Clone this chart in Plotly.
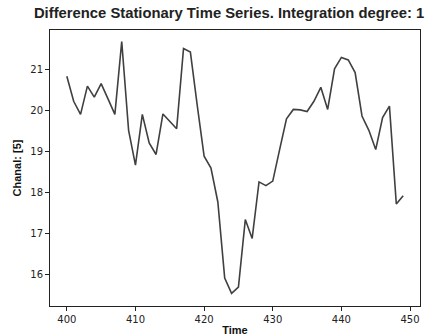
import plotly.graph_objects as go

time = list(range(400, 450))
values = [20.83, 20.22, 19.90, 20.59, 20.32, 20.65, 20.28, 19.90, 21.68, 19.51,
          18.66, 19.90, 19.20, 18.92, 19.91, 19.73, 19.55, 21.51, 21.42, 20.12,
          18.88, 18.59, 17.76, 15.90, 15.53, 15.68, 17.33, 16.87, 18.25, 18.16,
          18.27, 19.04, 19.79, 20.02, 20.01, 19.97, 20.22, 20.56, 20.02, 21.01,
          21.29, 21.23, 20.92, 19.86, 19.51, 19.04, 19.82, 20.10, 17.71, 17.91]
x_ticks = [400, 410, 420, 430, 440, 450]
y_ticks = [16, 17, 18, 19, 20, 21]

fig = go.Figure(go.Scatter(x=time, y=values, mode="lines",
                           line=dict(color="#404040", width=1.6)))

ax = dict(showgrid=False, zeroline=False, showline=True, mirror=True,
          linecolor="#222222", linewidth=1, ticks="outside", ticklen=4,
          tickcolor="#222222", automargin=False, ticklabeloverflow="allow",
          tickfont=dict(family="DejaVu Sans", size=10, color="#222222"))

fig.update_layout(
    width=428, height=336,
    margin=dict(l=50, r=8, t=30, b=30),
    paper_bgcolor="white", plot_bgcolor="white",
    showlegend=False,
    title=dict(text="<b>Difference Stationary Time Series. Integration degree: 1</b>",
               x=0.484, xref="paper", xanchor="center", y=1 - 13/336, yanchor="middle",
               font=dict(family="Liberation Sans", size=14.8, color="#222222")),
    xaxis=dict(**ax, range=[397.55, 451.45], tickvals=x_ticks,
               title=dict(text="<b>Time</b>", standoff=2,
                          font=dict(family="Liberation Sans", size=11, color="#111111"))),
    yaxis=dict(**ax, range=[15.22, 21.96], tickvals=y_ticks,
               title=dict(text="<b>Chanal: [5]</b>", standoff=6,
                          font=dict(family="Liberation Sans", size=11, color="#111111"))),
)

fig.write_html("out.html", config={"displayModeBar": False},
               post_script="document.body.style.margin='0';document.body.style.overflow='hidden';")
